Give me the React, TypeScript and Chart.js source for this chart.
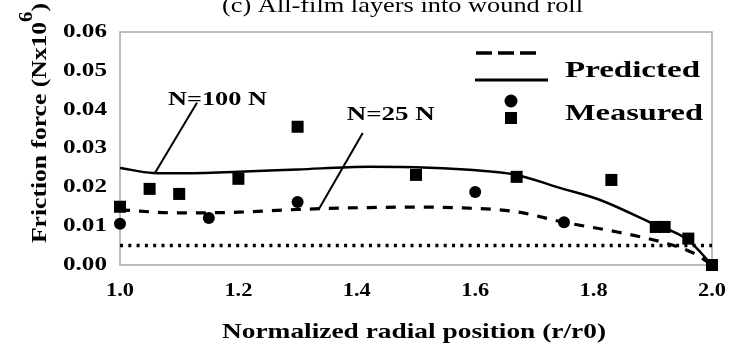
import { useEffect, useRef } from "react";
import { Chart, registerables } from "chart.js";

Chart.register(...registerables);

// ---------- data ----------
const xTickValues = [1.0, 1.2, 1.4, 1.6, 1.8, 2.0];
const xTickLabels = ["1.0", "1.2", "1.4", "1.6", "1.8", "2.0"];
const yTickValues = [0, 0.01, 0.02, 0.03, 0.04, 0.05, 0.06];
const yTickLabels = ["0.00", "0.01", "0.02", "0.03", "0.04", "0.05", "0.06"];

// Predicted, N=100 N (solid)
const pred100X = [1.0, 1.056, 1.1, 1.2, 1.3, 1.42, 1.5, 1.59, 1.67, 1.74, 1.81, 1.895, 1.96, 2.0];
const pred100Y = [0.025, 0.0237, 0.0236, 0.024, 0.0246, 0.0253, 0.0252, 0.0245, 0.0232, 0.02, 0.0168, 0.011, 0.0064, 0.0];

// Predicted, N=25 N (dashed)
const pred25X = [1.0, 1.1, 1.2, 1.3, 1.42, 1.5, 1.58, 1.67, 1.75, 1.84, 1.92, 1.97, 2.0];
const pred25Y = [0.0142, 0.0134, 0.0136, 0.0143, 0.0148, 0.0149, 0.0147, 0.0137, 0.011, 0.0085, 0.0057, 0.003, 0.0];

// Measured, N=100 N (squares)
const meas100X = [1.0, 1.05, 1.1, 1.2, 1.3, 1.5, 1.67, 1.83, 1.905, 1.92, 1.96, 2.0];
const meas100Y = [0.015, 0.0196, 0.0183, 0.0222, 0.0356, 0.0232, 0.0227, 0.0219, 0.0098, 0.0098, 0.0068, 0.0];

// Measured, N=25 N (circles)
const meas25X = [1.0, 1.15, 1.3, 1.6, 1.75];
const meas25Y = [0.0106, 0.0121, 0.0162, 0.0188, 0.011];

// dotted reference level
const limitX = [1.0, 2.0];
const limitY = [0.005, 0.005];

// annotations (data coordinates)
const annotations = [
  { text: "N=100 N", x: 1.081, y: 0.0412, width: 99, lineFrom: [1.13, 0.0418], lineTo: [1.059, 0.0237] },
  { text: "N=25 N", x: 1.383, y: 0.0374, width: 88, lineFrom: [1.41, 0.034], lineTo: [1.336, 0.0144] },
];

const titleText = "(c) All-film layers into wound roll";
const xTitle = "Normalized radial position (r/r0)";
const yTitleMain = "Friction force (Nx10";
const yTitleSup = "6";
const yTitleEnd = ")";
const legendLines = "Predicted";
const legendMarkers = "Measured";

const FONT = "'Liberation Serif', 'Times New Roman', serif";

const pts = (xs: number[], ys: number[]) => xs.map((x, i) => ({ x, y: ys[i] }));

function stretchText(
  ctx: CanvasRenderingContext2D,
  text: string,
  x: number,
  y: number,
  size: number,
  bold: boolean,
  targetWidth: number | null,
  align: CanvasTextAlign,
  baseline: CanvasTextBaseline = "alphabetic"
) {
  ctx.save();
  ctx.font = `${bold ? "bold " : ""}${size}px ${FONT}`;
  const w = ctx.measureText(text).width;
  const sx = targetWidth ? targetWidth / w : 1;
  ctx.translate(x, y);
  ctx.scale(sx, 1);
  ctx.textAlign = align;
  ctx.textBaseline = baseline;
  ctx.fillStyle = "#000";
  ctx.fillText(text, 0, 0);
  ctx.restore();
}

const customPlugin = {
  id: "customDraw",
  beforeDatasetsDraw(chart: any) {
    const { ctx, chartArea: a } = chart;
    ctx.save();
    ctx.strokeStyle = "#a6a6a6";
    ctx.lineWidth = 1.5;
    ctx.strokeRect(a.left, a.top, a.right - a.left, a.bottom - a.top);
    ctx.restore();
  },
  afterDatasetsDraw(chart: any) {
    const { ctx } = chart;
    const xs = chart.scales.x;
    const ys = chart.scales.y;
    ctx.save();
    ctx.strokeStyle = "#000";
    ctx.lineWidth = 2;
    annotations.forEach((an) => {
      ctx.beginPath();
      ctx.moveTo(xs.getPixelForValue(an.lineFrom[0]), ys.getPixelForValue(an.lineFrom[1]));
      ctx.lineTo(xs.getPixelForValue(an.lineTo[0]), ys.getPixelForValue(an.lineTo[1]));
      ctx.stroke();
    });
    ctx.restore();
  },
  afterDraw(chart: any) {
    const { ctx, chartArea: a } = chart;
    const xs = chart.scales.x;
    const ys = chart.scales.y;

    // title (clipped at the top, as in the source)
    stretchText(ctx, titleText, 222, 12, 22, false, 361, "left");

    // y tick labels
    yTickValues.forEach((v, i) => {
      stretchText(ctx, yTickLabels[i], a.left - 13, ys.getPixelForValue(v), 19, true, 44, "right", "middle");
    });
    // x tick labels
    xTickValues.forEach((v, i) => {
      stretchText(ctx, xTickLabels[i], xs.getPixelForValue(v), a.bottom + 26, 19, true, 28, "center", "middle");
    });

    // x title
    stretchText(ctx, xTitle, 414, 338, 22, true, 384, "center");

    // y title (rotated, with superscript)
    ctx.save();
    ctx.fillStyle = "#000";
    ctx.translate(46, 243);
    ctx.rotate(-Math.PI / 2);
    ctx.font = `bold 22px ${FONT}`;
    const w1 = ctx.measureText(yTitleMain).width;
    const w3 = ctx.measureText(yTitleEnd).width;
    ctx.font = `bold 18px ${FONT}`;
    const w2 = ctx.measureText(yTitleSup).width;
    const sx = 240 / (w1 + w2 + w3);
    ctx.scale(sx, 1);
    ctx.textAlign = "left";
    ctx.textBaseline = "alphabetic";
    ctx.font = `bold 22px ${FONT}`;
    ctx.fillText(yTitleMain, 0, 0);
    ctx.fillText(yTitleEnd, w1 + w2, 0);
    ctx.font = `bold 18px ${FONT}`;
    ctx.fillText(yTitleSup, w1, -14);
    ctx.restore();

    // annotations text
    annotations.forEach((an) => {
      stretchText(ctx, an.text, xs.getPixelForValue(an.x), ys.getPixelForValue(an.y), 19, true, an.width, "left");
    });

    // legend
    ctx.save();
    ctx.strokeStyle = "#000";
    ctx.fillStyle = "#000";
    ctx.lineWidth = 3.5;
    ctx.setLineDash([16, 6]);
    ctx.beginPath();
    ctx.moveTo(476, 53);
    ctx.lineTo(537, 53);
    ctx.stroke();
    ctx.setLineDash([]);
    ctx.lineWidth = 3;
    ctx.beginPath();
    ctx.moveTo(475, 80);
    ctx.lineTo(548, 80);
    ctx.stroke();
    ctx.beginPath();
    ctx.arc(511, 101, 6.5, 0, Math.PI * 2);
    ctx.fill();
    ctx.fillRect(505, 112, 12, 12);
    ctx.restore();
    stretchText(ctx, legendLines, 565, 77, 24, true, 135, "left");
    stretchText(ctx, legendMarkers, 565, 120, 24, true, 138, "left");
  },
};

export default function App() {
  const ref = useRef<HTMLCanvasElement | null>(null);
  useEffect(() => {
    if (!ref.current) return;
    const chart = new Chart(ref.current, {
      type: "scatter",
      data: {
        datasets: [
          {
            label: "Predicted N=25 N",
            data: pts(pred25X, pred25Y),
            showLine: true,
            borderColor: "#000",
            borderWidth: 3.2,
            borderDash: [10, 9],
            borderCapStyle: "butt",
            pointRadius: 0,
            cubicInterpolationMode: "monotone",
            clip: false,
          },
          {
            label: "Predicted N=100 N",
            data: pts(pred100X, pred100Y),
            showLine: true,
            borderColor: "#000",
            borderWidth: 2.5,
            pointRadius: 0,
            cubicInterpolationMode: "monotone",
            clip: false,
          },
          {
            label: "Level",
            data: pts(limitX, limitY),
            showLine: true,
            borderColor: "#000",
            borderWidth: 3.5,
            borderDash: [3, 5.3],
            borderCapStyle: "butt",
            pointRadius: 0,
            clip: false,
          },
          {
            label: "Measured N=25 N",
            data: pts(meas25X, meas25Y),
            pointStyle: "circle",
            pointRadius: 6,
            backgroundColor: "#000",
            borderColor: "#000",
            borderWidth: 0,
            clip: false,
          },
          {
            label: "Measured N=100 N",
            data: pts(meas100X, meas100Y),
            pointStyle: "rect",
            pointRadius: 8.5,
            backgroundColor: "#000",
            borderColor: "#000",
            borderWidth: 0,
            clip: false,
          },
        ],
      } as any,
      options: {
        animation: false,
        responsive: false,
        devicePixelRatio: 1,
        layout: { padding: { top: 32, right: 18, left: 0, bottom: 0 } },
        plugins: { legend: { display: false }, tooltip: { enabled: false }, title: { display: false } },
        events: [],
        scales: {
          x: {
            type: "linear",
            min: 1.0,
            max: 2.0,
            grid: { display: false, drawTicks: false },
            border: { display: false },
            ticks: { display: false, stepSize: 0.2 },
            afterFit: (s: any) => {
              s.height = 80;
            },
          },
          y: {
            type: "linear",
            min: 0,
            max: 0.06,
            grid: { display: false, drawTicks: false },
            border: { display: false },
            ticks: { display: false, stepSize: 0.01 },
            afterFit: (s: any) => {
              s.width = 120;
            },
          },
        },
      } as any,
      plugins: [customPlugin],
    });
    return () => chart.destroy();
  }, []);
  return (
    <div style={{ position: "fixed", left: 0, top: 0, width: 730, height: 345, background: "#fff" }}>
      <canvas ref={ref} width={730} height={345} style={{ display: "block", width: 730, height: 345 }} />
    </div>
  );
}
